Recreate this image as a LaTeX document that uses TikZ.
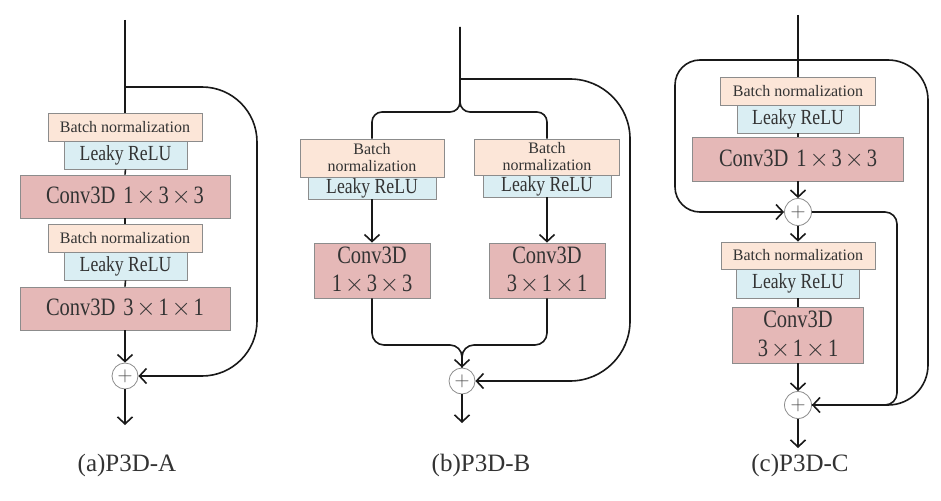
\documentclass[tikz,border=0pt]{standalone}
\usepackage{fontspec}
\usetikzlibrary{arrows.meta}
\newfontfamily\diagserif{Liberation Serif}
\newfontfamily\diagnarrow[FakeStretch=0.82]{Liberation Serif}
\newcommand{\tms}{\ensuremath{\mkern2mu\times\mkern2mu}}
\definecolor{bnc}{HTML}{FCE6D8}
\definecolor{lrc}{HTML}{DAEEF3}
\definecolor{cvc}{HTML}{E5B8B7}
\definecolor{bdc}{HTML}{8C8C8C}
\definecolor{txc}{HTML}{333333}
\tikzset{
  box/.style={draw=bdc, line width=0.8pt, inner sep=0pt, text=txc, align=center},
  bnbox/.style={box, fill=bnc, font=\diagserif\fontsize{16}{17}\selectfont},
  lrbox/.style={box, fill=lrc, font=\diagnarrow\fontsize{21.5}{22}\selectfont},
  cvbox/.style={box, fill=cvc, font=\diagnarrow\fontsize{25}{28.5}\selectfont},
  sumnode/.style={circle, draw=bdc, fill=white, line width=0.8pt, minimum size=26pt, inner sep=0pt, text=black!70, font=\fontsize{22}{22}\selectfont},
  wire/.style={line width=1.6pt, draw=black!90},
  arr/.style={wire, -{Straight Barb[length=7pt,width=15pt]}},
  lab/.style={font=\diagserif\fontsize{25}{26}\selectfont, text=txc}
}
\begin{document}
\begin{tikzpicture}[x=1pt,y=-1pt]
\useasboundingbox[fill=white] (0,0) rectangle (941,500);
% ---------------- (a) ----------------
\coordinate (topA) at (125,20);
\coordinate (brA) at (125,87);
\coordinate (outA) at (125,425);
\node[bnbox, minimum width=154pt, minimum height=28pt] (bnA1) at (125,127) {Batch normalization};
\node[lrbox, minimum width=123pt, minimum height=28pt] (lrA1) at (125.5,155) {Leaky ReLU};
\node[cvbox, minimum width=210pt, minimum height=43pt] (cvA1) at (125,196.5) {Conv3D\hspace{8pt}1\tms 3\tms 3};
\node[bnbox, minimum width=154pt, minimum height=28pt] (bnA2) at (125,238) {Batch normalization};
\node[lrbox, minimum width=123pt, minimum height=28pt] (lrA2) at (125.5,266) {Leaky ReLU};
\node[cvbox, minimum width=210pt, minimum height=43pt] (cvA2) at (125,308.5) {Conv3D\hspace{8pt}3\tms 1\tms 1};
\node[sumnode] (plusA) at (125,376) {$+$};
\node[lab] (labA) at (127,465) {(a)P3D-A};
\draw[wire] (topA) -- (bnA1.north);
\draw[wire] (lrA1.south) -- (cvA1.north);
\draw[wire] (cvA1.south) -- (bnA2.north);
\draw[wire] (lrA2.south) -- (cvA2.north);
\draw[arr] (cvA2.south) -- (plusA.north);
\draw[arr] (plusA.south) -- (outA);
\draw[arr, rounded corners=55pt] (brA) -- (257,87) -- (257,376) -- (plusA.east);
% ---------------- (b) ----------------
\coordinate (topB) at (460,27);
\coordinate (brB) at (460,79);
\coordinate (spB) at (460,112);
\coordinate (mgB) at (462,345);
\coordinate (outB) at (462,423);
\node[bnbox, minimum width=144pt, minimum height=38pt] (bnB1) at (372,158) {Batch\\normalization};
\node[lrbox, minimum width=128pt, minimum height=22pt] (lrB1) at (372,188) {Leaky ReLU};
\node[cvbox, minimum width=116pt, minimum height=55pt] (cvB1) at (372,270.5) {Conv3D\\1\tms 3\tms 3};
\node[bnbox, minimum width=145pt, minimum height=36pt] (bnB2) at (547,157) {Batch\\normalization};
\node[lrbox, minimum width=128pt, minimum height=22pt] (lrB2) at (547,186) {Leaky ReLU};
\node[cvbox, minimum width=116pt, minimum height=55pt] (cvB2) at (547,270.5) {Conv3D\\3\tms 1\tms 1};
\node[sumnode] (plusB) at (462,381) {$+$};
\node[lab] (labB) at (481,465) {(b)P3D-B};
\draw[wire, rounded corners=10pt] (topB) -- (spB) -| (bnB1.north);
\draw[wire, rounded corners=10pt] (brB) -- (spB) -| (bnB2.north);
\draw[arr] (lrB1.south) -- (cvB1.north);
\draw[arr] (lrB2.south) -- (cvB2.north);
\draw[wire, rounded corners=12pt] (cvB1.south) |- (mgB) -- (plusB.north);
\draw[arr, rounded corners=12pt] (cvB2.south) |- (mgB) -- (plusB.north);
\draw[arr] (plusB.south) -- (outB);
\draw[arr, rounded corners=60pt] (brB) -- (630,79) -- (630,381) -- (plusB.east);
% ---------------- (c) ----------------
\coordinate (topC) at (798,15);
\coordinate (lpC) at (798,60);
\coordinate (outC) at (798,448);
\node[bnbox, minimum width=155pt, minimum height=28pt] (bnC1) at (798,91) {Batch normalization};
\node[lrbox, minimum width=122pt, minimum height=28pt] (lrC1) at (798,119) {Leaky ReLU};
\node[cvbox, minimum width=211pt, minimum height=44pt] (cvC1) at (798,159) {Conv3D\hspace{8pt}1\tms 3\tms 3};
\node[sumnode, minimum size=27pt] (plusC1) at (798,212) {$+$};
\node[bnbox, minimum width=154pt, minimum height=27pt] (bnC2) at (798,255.5) {Batch normalization};
\node[lrbox, minimum width=123pt, minimum height=29pt] (lrC2) at (798,283.5) {Leaky ReLU};
\node[cvbox, minimum width=131pt, minimum height=56pt] (cvC2) at (798,335) {Conv3D\\3\tms 1\tms 1};
\node[sumnode, minimum size=27pt] (plusC2) at (798,405) {$+$};
\node[lab] (labC) at (800,465) {(c)P3D-C};
\draw[wire] (topC) -- (bnC1.north);
\draw[wire] (lrC1.south) -- (cvC1.north);
\draw[arr] (cvC1.south) -- (plusC1.north);
\draw[arr] (plusC1.south) -- (bnC2.north);
\draw[wire] (lrC2.south) -- (cvC2.north);
\draw[arr] (cvC2.south) -- (plusC2.north);
\draw[arr] (plusC2.south) -- (outC);
\draw[arr, rounded corners=25pt] (lpC) -- (675,60) -- (675,212) -- (plusC1.west);
\draw[wire, rounded corners=12pt] (plusC1.east) -- (897,212) -- (897,405) -- (plusC2.east);
\draw[arr, rounded corners=40pt] (lpC) -- (928,60) -- (928,405) -- (plusC2.east);
\end{tikzpicture}
\end{document}
